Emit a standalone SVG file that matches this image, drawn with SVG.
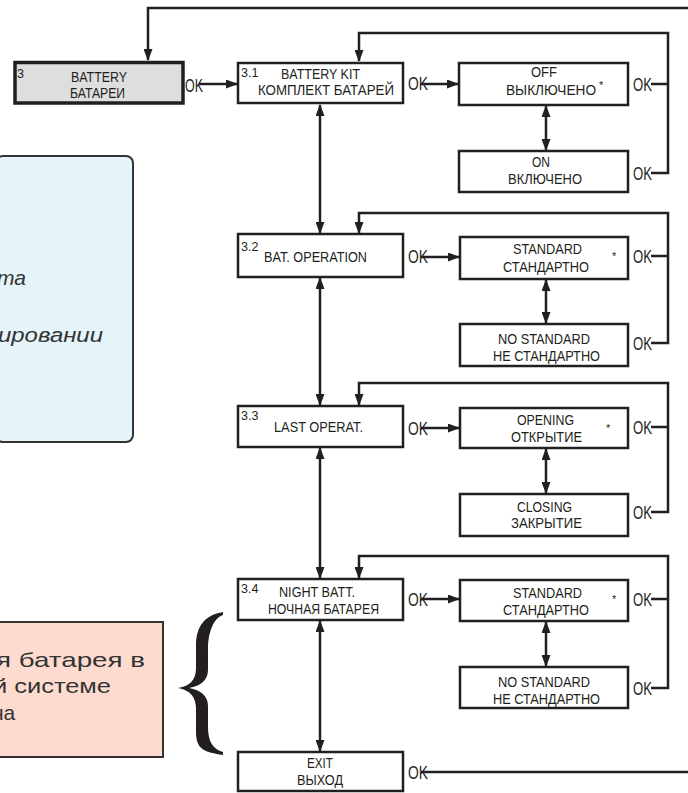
<svg xmlns="http://www.w3.org/2000/svg" width="688" height="793" viewBox="0 0 688 793">
<style>
.bx{fill:#fff;stroke:#231f20;stroke-width:2.5}
.t{font-family:"Liberation Sans",Arial,sans-serif;font-size:14.5px;fill:#231f20}
.n{font-family:"Liberation Sans",Arial,sans-serif;font-size:12.5px;fill:#231f20}
.ok{font-family:"Liberation Sans",Arial,sans-serif;font-size:18px;fill:#231f20}
.st{font-family:"Liberation Sans",Arial,sans-serif;font-size:11px;fill:#231f20}
.c{fill:none;stroke:#231f20;stroke-width:2.5}
.a{marker-end:url(#ah)}
.d{marker-start:url(#ah);marker-end:url(#ah)}
.note{font-family:"Liberation Sans",Arial,sans-serif;fill:#333}
</style>
<defs>
<marker id="ah" viewBox="0 0 12 9" refX="11" refY="4.5" markerWidth="12" markerHeight="9" markerUnits="userSpaceOnUse" orient="auto-start-reverse"><path d="M0,0 L12,4.5 L0,9 z" fill="#231f20"/></marker>
</defs>
<rect width="688" height="793" fill="#fff"/>

<g id="note-blue">
<rect x="-4" y="156" width="137" height="286" rx="7" fill="#e4f4f8" stroke="#333" stroke-width="2"/>
<text class="note" x="-3" y="285" font-size="21" font-style="italic">та</text>
<text class="note" x="-2" y="342" font-size="20" font-style="italic" textLength="105" lengthAdjust="spacingAndGlyphs">ировании</text>
</g>

<g id="note-pink">
<rect x="-4" y="622" width="167" height="135" fill="#fddccf" stroke="#333" stroke-width="2"/>
<text class="note" x="-4" y="667" font-size="21" textLength="149" lengthAdjust="spacingAndGlyphs">я батарея в</text>
<text class="note" x="-7" y="693" font-size="21" textLength="118" lengthAdjust="spacingAndGlyphs">й системе</text>
<text class="note" x="-8" y="720" font-size="21">на</text>
</g>

<g id="brace">
<path d="M223 612 C205 615 196 626 196 646 L196 668 C196 680 190 686 178 688 C190 690 196 697 196 709 L196 732 C196 750 205 752 223 755 L223 752 C213 749 208 742 208 727 L208 706 C208 696 201 690 189 688 C201 686 208 680 208 670 L208 649 C208 634 213 618 223 615 Z" fill="#231f20"/>
</g>

<g id="connectors">
<polyline class="c a" points="688,8 148,8 148,60"/>
<line class="c a" x1="199" y1="84" x2="237" y2="84"/>
<line class="c a" x1="421" y1="84" x2="458" y2="84"/>
<polyline class="c a" points="651,173 668,173 668,33 359,33 359,61"/>
<line class="c" x1="651" y1="84" x2="668" y2="84"/>
<line class="c d" x1="546" y1="106" x2="546" y2="150"/>
<line class="c d" x1="320" y1="105" x2="320" y2="233"/>

<line class="c a" x1="421" y1="257" x2="459" y2="257"/>
<polyline class="c a" points="651,343 668,343 668,213 359,213 359,233"/>
<line class="c" x1="651" y1="256" x2="668" y2="256"/>
<line class="c d" x1="546" y1="280" x2="546" y2="323"/>
<line class="c d" x1="320" y1="278" x2="320" y2="405"/>

<line class="c a" x1="421" y1="428" x2="459" y2="428"/>
<polyline class="c a" points="651,512 668,512 668,383 359,383 359,405"/>
<line class="c" x1="651" y1="427" x2="668" y2="427"/>
<line class="c d" x1="546" y1="449" x2="546" y2="493"/>
<line class="c d" x1="320" y1="448" x2="320" y2="578"/>

<line class="c a" x1="421" y1="599" x2="459" y2="599"/>
<polyline class="c a" points="651,688 668,688 668,556 359,556 359,578"/>
<line class="c" x1="651" y1="599" x2="668" y2="599"/>
<line class="c d" x1="546" y1="622" x2="546" y2="666"/>
<line class="c d" x1="320" y1="621" x2="320" y2="751"/>

<line class="c" x1="421" y1="772" x2="688" y2="772"/>
</g>

<g id="ok-labels">
<text class="ok" x="185" y="92" textLength="18" lengthAdjust="spacingAndGlyphs">OK</text>
<text class="ok" x="408" y="90" textLength="20" lengthAdjust="spacingAndGlyphs">OK</text>
<text class="ok" x="633" y="91" textLength="19" lengthAdjust="spacingAndGlyphs">OK</text>
<text class="ok" x="633" y="180" textLength="19" lengthAdjust="spacingAndGlyphs">OK</text>
<text class="ok" x="408" y="263" textLength="20" lengthAdjust="spacingAndGlyphs">OK</text>
<text class="ok" x="633" y="263" textLength="19" lengthAdjust="spacingAndGlyphs">OK</text>
<text class="ok" x="633" y="350" textLength="19" lengthAdjust="spacingAndGlyphs">OK</text>
<text class="ok" x="408" y="435" textLength="20" lengthAdjust="spacingAndGlyphs">OK</text>
<text class="ok" x="633" y="434" textLength="19" lengthAdjust="spacingAndGlyphs">OK</text>
<text class="ok" x="633" y="519" textLength="19" lengthAdjust="spacingAndGlyphs">OK</text>
<text class="ok" x="408" y="606" textLength="20" lengthAdjust="spacingAndGlyphs">OK</text>
<text class="ok" x="633" y="606" textLength="19" lengthAdjust="spacingAndGlyphs">OK</text>
<text class="ok" x="633" y="695" textLength="19" lengthAdjust="spacingAndGlyphs">OK</text>
<text class="ok" x="408" y="779" textLength="20" lengthAdjust="spacingAndGlyphs">OK</text>
</g>

<g id="node-3">
<rect x="15" y="62.5" width="168" height="40.5" fill="#dedede" stroke="#231f20" stroke-width="3.5"/>
<text class="n" x="17" y="78">3</text>
<text class="t" x="71" y="82" textLength="56" lengthAdjust="spacingAndGlyphs">BATTERY</text>
<text class="t" x="70" y="98" textLength="55" lengthAdjust="spacingAndGlyphs">БАТАРЕИ</text>
</g>

<g id="node-3-1">
<rect class="bx" x="238" y="63" width="165" height="40"/>
<text class="n" x="241" y="77">3.1</text>
<text class="t" x="281" y="79" textLength="79" lengthAdjust="spacingAndGlyphs">BATTERY KIT</text>
<text class="t" x="258" y="95" textLength="136" lengthAdjust="spacingAndGlyphs">КОМПЛЕКТ БАТАРЕЙ</text>
</g>

<g id="node-off">
<rect class="bx" x="459" y="63" width="169" height="42"/>
<text class="t" x="531" y="77" textLength="26" lengthAdjust="spacingAndGlyphs">OFF</text>
<text class="t" x="506" y="95" textLength="90" lengthAdjust="spacingAndGlyphs">ВЫКЛЮЧЕНО</text>
<text class="st" x="599" y="89">*</text>
</g>

<g id="node-on">
<rect class="bx" x="459" y="151" width="169" height="41"/>
<text class="t" x="532" y="167" textLength="18" lengthAdjust="spacingAndGlyphs">ON</text>
<text class="t" x="508" y="184" textLength="74" lengthAdjust="spacingAndGlyphs">ВКЛЮЧЕНО</text>
</g>

<g id="node-3-2">
<rect class="bx" x="238" y="234" width="165" height="43"/>
<text class="n" x="241" y="251">3.2</text>
<text class="t" x="264" y="262" textLength="103" lengthAdjust="spacingAndGlyphs">BAT. OPERATION</text>
</g>

<g id="node-std-1">
<rect class="bx" x="460" y="237" width="168" height="42"/>
<text class="t" x="513" y="254" textLength="69" lengthAdjust="spacingAndGlyphs">STANDARD</text>
<text class="t" x="503" y="272" textLength="86" lengthAdjust="spacingAndGlyphs">СТАНДАРТНО</text>
<text class="st" x="612" y="260">*</text>
</g>

<g id="node-nostd-1">
<rect class="bx" x="460" y="324" width="168" height="42"/>
<text class="t" x="498" y="344" textLength="92" lengthAdjust="spacingAndGlyphs">NO STANDARD</text>
<text class="t" x="493" y="361" textLength="107" lengthAdjust="spacingAndGlyphs">НЕ СТАНДАРТНО</text>
</g>

<g id="node-3-3">
<rect class="bx" x="238" y="406" width="165" height="41"/>
<text class="n" x="241" y="420">3.3</text>
<text class="t" x="274" y="432" textLength="89" lengthAdjust="spacingAndGlyphs">LAST OPERAT.</text>
</g>

<g id="node-opening">
<rect class="bx" x="460" y="408" width="168" height="40"/>
<text class="t" x="517" y="425" textLength="57" lengthAdjust="spacingAndGlyphs">OPENING</text>
<text class="t" x="511" y="442" textLength="71" lengthAdjust="spacingAndGlyphs">ОТКРЫТИЕ</text>
<text class="st" x="606" y="432">*</text>
</g>

<g id="node-closing">
<rect class="bx" x="460" y="494" width="168" height="42"/>
<text class="t" x="517" y="512" textLength="55" lengthAdjust="spacingAndGlyphs">CLOSING</text>
<text class="t" x="511" y="528" textLength="71" lengthAdjust="spacingAndGlyphs">ЗАКРЫТИЕ</text>
</g>

<g id="node-3-4">
<rect class="bx" x="238" y="579" width="165" height="41"/>
<text class="n" x="241" y="593">3.4</text>
<text class="t" x="279" y="597" textLength="76" lengthAdjust="spacingAndGlyphs">NIGHT BATT.</text>
<text class="t" x="268" y="614" textLength="111" lengthAdjust="spacingAndGlyphs">НОЧНАЯ БАТАРЕЯ</text>
</g>

<g id="node-std-2">
<rect class="bx" x="460" y="580" width="168" height="41"/>
<text class="t" x="513" y="598" textLength="69" lengthAdjust="spacingAndGlyphs">STANDARD</text>
<text class="t" x="503" y="615" textLength="86" lengthAdjust="spacingAndGlyphs">СТАНДАРТНО</text>
<text class="st" x="612" y="603">*</text>
</g>

<g id="node-nostd-2">
<rect class="bx" x="460" y="667" width="168" height="41"/>
<text class="t" x="498" y="687" textLength="92" lengthAdjust="spacingAndGlyphs">NO STANDARD</text>
<text class="t" x="493" y="704" textLength="107" lengthAdjust="spacingAndGlyphs">НЕ СТАНДАРТНО</text>
</g>

<g id="node-exit">
<rect class="bx" x="238" y="752" width="165" height="39"/>
<text class="t" x="307" y="768" textLength="26" lengthAdjust="spacingAndGlyphs">EXIT</text>
<text class="t" x="297" y="785" textLength="46" lengthAdjust="spacingAndGlyphs">ВЫХОД</text>
</g>
</svg>
